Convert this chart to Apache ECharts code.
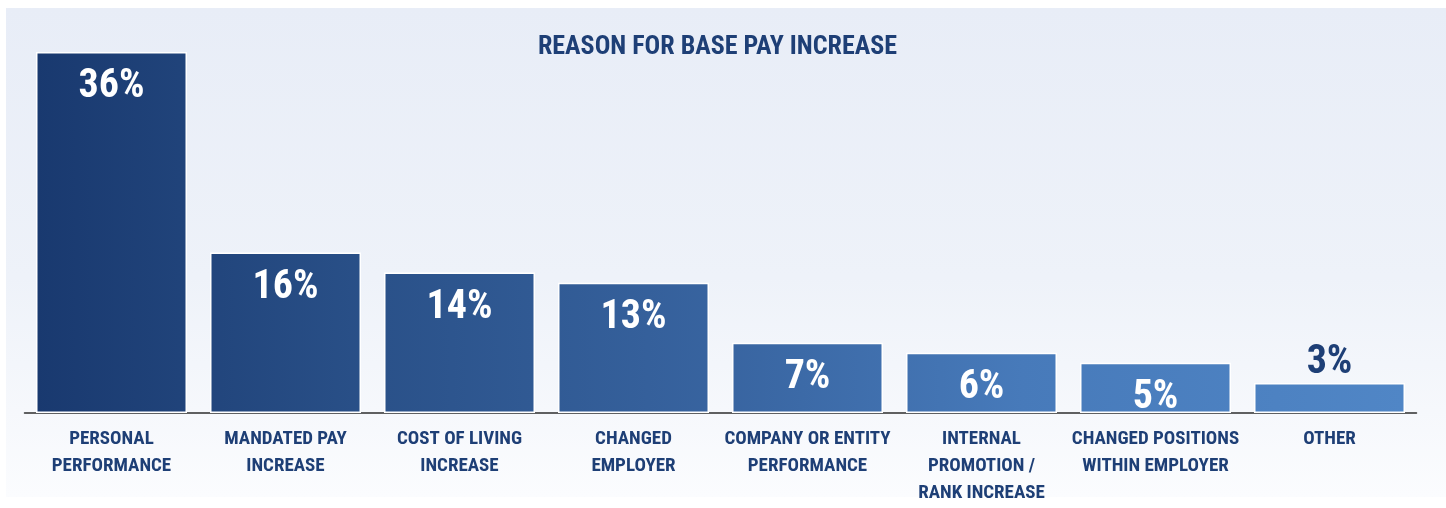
<!DOCTYPE html>
<html>
<head>
<meta charset="utf-8">
<title>Reason for Base Pay Increase</title>
<script src="https://cdn.jsdelivr.net/npm/echarts@6/dist/echarts.min.js"></script>
<style>
  html, body { margin: 0; padding: 0; background: #ffffff; }
  #chart { width: 1446px; height: 508px; }
</style>
</head>
<body>
<div id="chart"></div>
<script>
// Survey results: reasons respondents gave for their base pay increase (% of respondents)
const chartTitle = 'REASON FOR BASE PAY INCREASE';
const categories = [
  'PERSONAL\nPERFORMANCE',
  'MANDATED PAY\nINCREASE',
  'COST OF LIVING\nINCREASE',
  'CHANGED\nEMPLOYER',
  'COMPANY OR ENTITY\nPERFORMANCE',
  'INTERNAL\nPROMOTION /\nRANK INCREASE',
  'CHANGED POSITIONS\nWITHIN EMPLOYER',
  'OTHER'
];
const values = [36, 16, 14, 13, 7, 6, 5, 3];

// Narrowest available bold face first
const FONT = "'Roboto Condensed', 'Open Sans Condensed', 'Liberation Sans Narrow', 'Noto Sans Condensed', 'DejaVu Sans Condensed', sans-serif";
const NAVY = '#1e3f76';

const chart = echarts.init(document.getElementById('chart'), null, { renderer: 'canvas' });

// One horizontal gradient shared by every bar: dark navy on the left to mid blue on the right
const barFill = new echarts.graphic.LinearGradient(36, 0, 1405, 0, [
  { offset: 0, color: '#19396f' },
  { offset: 0.25, color: '#2a5189' },
  { offset: 0.5, color: '#3864a0' },
  { offset: 0.72, color: '#477aba' },
  { offset: 1, color: '#5086c6' }
], true);

// Short bars carry their label above the bar instead of inside it
const barData = values.map(v => {
  const item = { value: v };
  if (v < 4) {
    item.label = { position: 'top', color: NAVY, distance: 0 };
  }
  return item;
});

chart.setOption({
  animation: false,
  graphic: [{
    type: 'rect',
    z: -10,
    silent: true,
    shape: { x: 6, y: 8, width: 1440, height: 489 },
    style: {
      fill: new echarts.graphic.LinearGradient(0, 0, 0, 1, [
        { offset: 0, color: '#e8edf7' },
        { offset: 0.55, color: '#eef2f9' },
        { offset: 1, color: '#fbfcfe' }
      ])
    }
  }],
  title: {
    text: chartTitle,
    left: 717.5,
    textAlign: 'center',
    top: 34,
    padding: 0,
    textStyle: {
      fontFamily: FONT,
      fontWeight: 'bold',
      fontSize: 26,
      color: NAVY
    }
  },
  grid: { left: 24.5, right: 29.5, top: 52, bottom: 95 },
  xAxis: {
    type: 'category',
    data: categories,
    offset: 9,
    axisLine: { show: true, lineStyle: { color: '#2e2e2e', width: 1.5 } },
    axisTick: { show: false },
    axisLabel: {
      interval: 0,
      margin: 4,
      fontFamily: FONT,
      fontWeight: 'bold',
      fontSize: 19,
      lineHeight: 27,
      color: NAVY,
      align: 'center'
    }
  },
  yAxis: {
    type: 'value',
    min: 0,
    max: 36,
    show: false,
    splitLine: { show: false }
  },
  series: [{
    type: 'bar',
    data: barData,
    barWidth: 151,
    itemStyle: {
      color: barFill,
      borderColor: '#ffffff',
      borderWidth: 1.5
    },
    label: {
      show: true,
      position: 'insideTop',
      distance: 15,
      formatter: '{c}%',
      fontFamily: FONT,
      fontWeight: 'bold',
      fontSize: 40,
      color: '#ffffff'
    }
  }]
});
</script>
</body>
</html>
